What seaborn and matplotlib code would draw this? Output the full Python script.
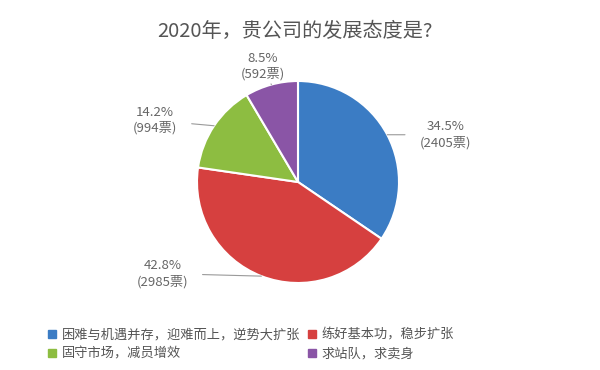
import numpy as np
import matplotlib
matplotlib.use('Agg')
import matplotlib.pyplot as plt
from matplotlib.lines import Line2D
import seaborn as sns

# data
categories = ['困难与机遇并存，迎难而上，逆势大扩张', '练好基本功，稳步扩张',
              '固守市场，减员增效', '求站队，求卖身']
percents = [34.5, 42.8, 14.2, 8.5]
votes = [2405, 2985, 994, 592]
colors = ['#3b7cc4', '#d6403f', '#8dbd41', '#8a55a6']

# label placement (angle in degrees, distance in pie radii)
label_angles = [17.8, -146.0, 156.7, 107.0]
label_dists = [1.53, 1.62, 1.54, 1.20]

sns.set_theme(style='white')
plt.rcParams['font.family'] = ['Noto Sans CJK SC', 'DejaVu Sans']

W, H = 600, 370
fig = plt.figure(figsize=(W / 100, H / 100), dpi=100)
fig.patch.set_facecolor('white')

# pie centre and radius in pixels
cx, cy, r = 298, 182, 101
ax = fig.add_axes([0, 0, 1, 1])

wedges, _ = ax.pie(percents, colors=colors, startangle=90, counterclock=False,
                   radius=1.0, center=(0, 0),
                   wedgeprops=dict(edgecolor='white', linewidth=1.5))
ax.set_xlim(-cx / r, (W - cx) / r)
ax.set_ylim(-(H - cy) / r, cy / r)
ax.set_aspect('auto')
ax.axis('off')

for w, p, v, a, d in zip(wedges, percents, votes, label_angles, label_dists):
    mid = np.deg2rad((w.theta1 + w.theta2) / 2)
    edge = (np.cos(mid), np.sin(mid))
    la = np.deg2rad(a)
    pos = (d * np.cos(la), d * np.sin(la))
    ax.annotate(f'{p}%\n({v}票)', xy=edge, xytext=pos,
                ha='center', va='center', fontsize=9.5, color='#666666',
                linespacing=1.25,
                arrowprops=dict(arrowstyle='-', color='#9a9a9a', lw=0.8,
                                shrinkA=8, shrinkB=0))

fig.text(295 / W, 1 - 31 / H, '2020年，贵公司的发展态度是?', ha='center', va='center',
         fontsize=14.5, color='#555555')

# legend fills column by column, so reorder to get rows of two
order = [0, 2, 1, 3]
handles = [Line2D([0], [0], marker='s', linestyle='', markersize=5.5,
                  markerfacecolor=colors[i], markeredgecolor=colors[i]) for i in order]
leg = fig.legend(handles, [categories[i] for i in order], ncol=2, loc='upper left',
                 bbox_to_anchor=(43 / W, 1 - 323 / H), frameon=False,
                 fontsize=9.5, handlelength=0.6, handletextpad=0.4,
                 columnspacing=0.6, labelspacing=0.45, borderaxespad=0)
for t in leg.get_texts():
    t.set_color('#555555')

fig.savefig('out.png', dpi=100, facecolor='white')
